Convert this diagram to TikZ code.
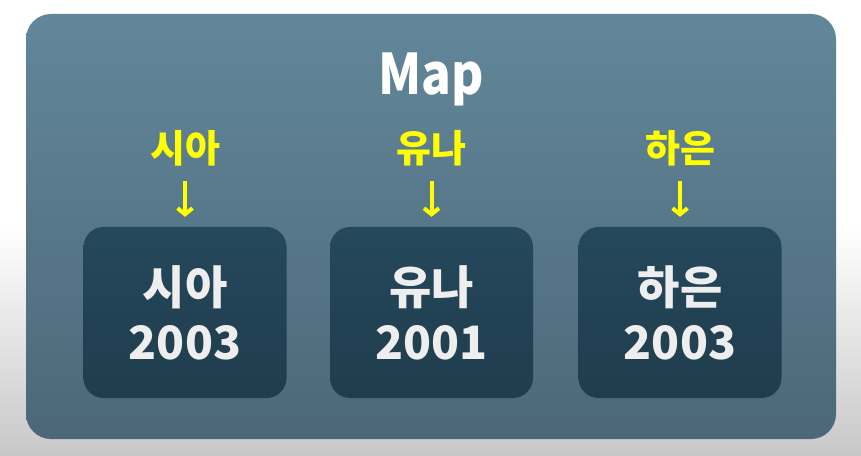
\documentclass[tikz,border=0pt]{standalone}
\usepackage{fontspec}
\setmainfont{Noto Sans CJK KR}
\usetikzlibrary{arrows.meta,positioning}
\definecolor{paneltop}{HTML}{62879A}
\definecolor{panelbot}{HTML}{4C6878}
\definecolor{boxtop}{HTML}{25485B}
\definecolor{boxbot}{HTML}{1F3D4D}
\definecolor{boxtext}{HTML}{EEEEEE}
\definecolor{keyyellow}{HTML}{FFFF00}
\definecolor{bggray}{HTML}{C8C8C8}
\tikzset{%
  panel/.style    = {rounded corners=25pt, top color=paneltop, bottom color=panelbot},%
  entry/.style    = {shape=rectangle, rounded corners=20pt, align=center,%
                     minimum width=203pt, minimum height=171pt,%
                     top color=boxtop, bottom color=boxbot, text=boxtext,%
                     font=\fontsize{46}{55}\selectfont\bfseries},%
  keyname/.style  = {anchor=base, text=keyyellow, font=\fontsize{38}{40}\selectfont\bfseries},%
  keyarrow/.style = {draw=keyyellow, line width=4pt, shorten <=11pt, shorten >=10pt,%
                     -{Straight Barb[length=6pt,width=15pt]}}%
}
\begin{document}
\begin{tikzpicture}[x=1pt,y=1pt]
	\useasboundingbox (0,0) rectangle (861,455);
	\fill[white] (0,0) rectangle (861,455);
	\shade[top color=white, bottom color=bggray] (0,0) rectangle (861,230);
	\shade[panel] (26,16) rectangle (836,441);
	\node[anchor=base, xscale=0.88, text=white, font=\fontsize{56}{60}\selectfont\bfseries] (title) at (431,360) {Map};
	% values
	\node[entry] (sia) at (185,142.5) {시아\\2003};
	\node[entry] (yuna) at (431.5,142.5) {유나\\2001};
	\node[entry] (haeun) at (680,142.5) {하은\\2003};
	% keys
	\node[keyname] (ksia) at (185,292) {시아};
	\node[keyname] (kyuna) at (431.5,292) {유나};
	\node[keyname] (khaeun) at (680,292) {하은};
	\draw[keyarrow] (ksia) -- (sia);
	\draw[keyarrow] (kyuna) -- (yuna);
	\draw[keyarrow] (khaeun) -- (haeun);
\end{tikzpicture}
\end{document}
